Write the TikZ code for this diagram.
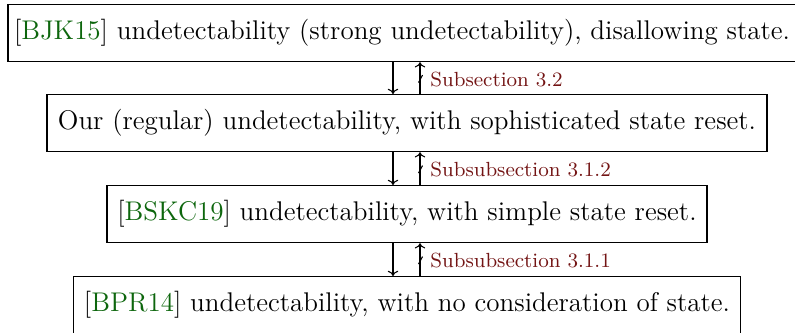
\documentclass[tikz,border=0pt]{standalone}
\usetikzlibrary{arrows.meta}
\definecolor{citegreen}{rgb}{0.05,0.4,0.05}
\definecolor{reflabel}{rgb}{0.45,0.08,0.08}
\newcommand{\citekey}[1]{[\textcolor{citegreen}{#1}]}
\begin{document}
\begin{tikzpicture}[x=0.42pt,y=-0.42pt,
  levelbox/.style={draw, line width=0.5pt, inner sep=0pt, minimum height=57*0.42pt, anchor=north, font=\fontsize{11.35}{13}\selectfont},
  arr/.style={-{To[length=2.2pt,width=4.4pt]}, line width=0.45pt},
  sublabel/.style={font=\fontsize{8.6}{10}\selectfont, text=reflabel, anchor=west, inner sep=0pt}]
\useasboundingbox (0,0) rectangle (795,332);
\node[levelbox, minimum width=788*0.42pt] (b1) at (402,4) {\citekey{BJK15} undetectability (strong undetectability), disallowing state.};
\node[levelbox, minimum width=720*0.42pt] (b2) at (407,94) {Our (regular) undetectability, with sophisticated state reset.};
\node[levelbox, minimum width=600*0.42pt] (b3) at (407,185) {\citekey{BSKC19} undetectability, with simple state reset.};
\node[levelbox, minimum width=667*0.42pt] (b4) at (407,276) {\citekey{BPR14} undetectability, with no consideration of state.};
\foreach \a/\b/\t in {b1/b2/{Subsection 3.2}, b2/b3/{Subsubsection 3.1.2}, b3/b4/{Subsubsection 3.1.1}}{
  \draw[arr] ([xshift=-14*0.42pt]\b.north |- \a.south) -- ([xshift=-14*0.42pt]\b.north);
  \draw[arr] ([xshift=13*0.42pt]\b.north) -- ([xshift=13*0.42pt]\b.north |- \a.south) coordinate[pos=0.5] (m);
  \draw[line width=0.45pt] ([xshift=-1.5*0.42pt,yshift=-4.5*0.42pt]m) -- ([xshift=2.5*0.42pt,yshift=3*0.42pt]m);
  \node[sublabel] at ([xshift=10*0.42pt,yshift=-1*0.42pt]m) {\t};
}
\end{tikzpicture}
\end{document}
